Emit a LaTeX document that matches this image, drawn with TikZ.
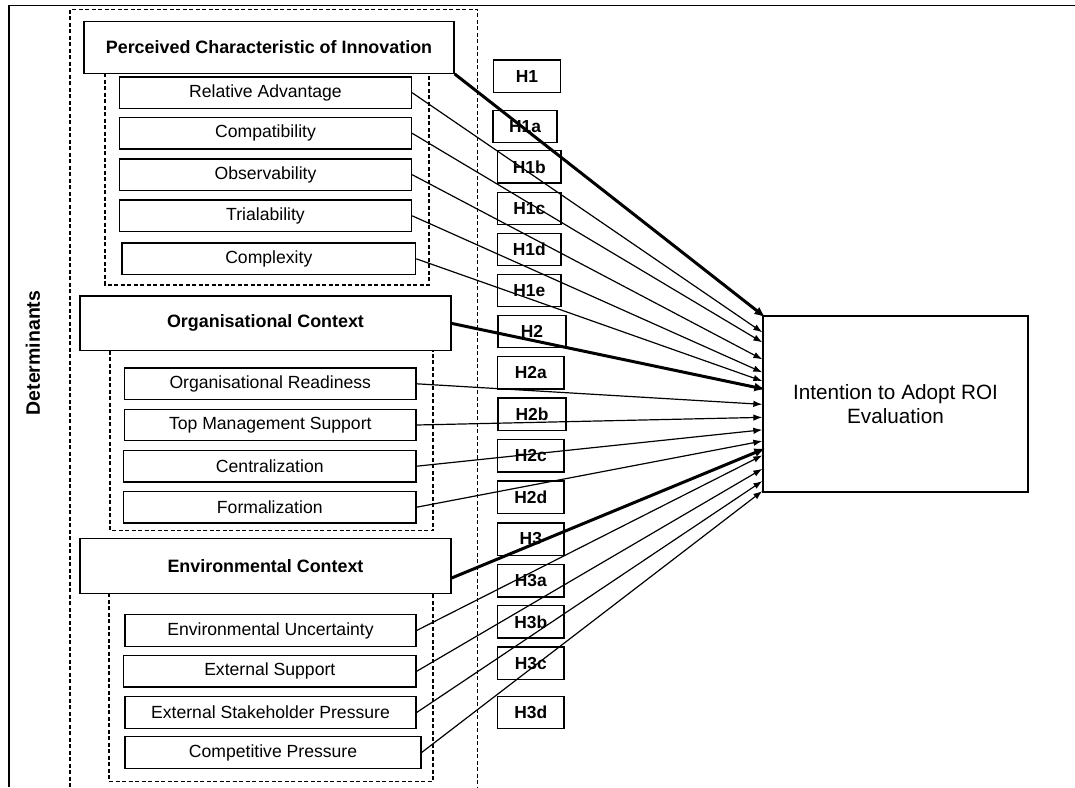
\documentclass[tikz,border=0pt]{standalone}
\usepackage{fontspec}
\setmainfont{Liberation Sans}
\usetikzlibrary{arrows.meta,calc}
\begin{document}
\begin{tikzpicture}[x=1pt,y=-1pt,
  box/.style={draw=black,line width=1.3pt,fill=white,inner sep=0pt,align=center},
  sub/.style={box,minimum height=31.5pt,font=\fontsize{17.6}{20}\selectfont},
  head/.style={box,font=\fontsize{17.9}{20}\selectfont\bfseries},
  hyp/.style={box,minimum height=32.3pt,font=\fontsize{17.4}{20}\selectfont\bfseries},
  grp/.style={draw=black,line width=1.2pt,dash pattern=on 4pt off 2.5pt},
  lnk/.style={draw=black,line width=1.2pt,-{Latex[length=9pt,width=6.5pt]}},
  mainlnk/.style={draw=black,line width=3pt,-{Latex[length=11pt,width=9pt]}}]
\useasboundingbox (0,0) rectangle (1075,787);
% frame
\draw[line width=1.3pt] (1075,5.7) -- (9,5.7) -- (9,787);
% outer dashed group
\draw[grp] (70,787) -- (70,9.3) -- (477.7,9.3) -- (477.7,787);
% inner dashed groups
\draw[grp] (105,73.3) -- (105,285) -- (429,285) -- (429,73.3);
\draw[grp] (110,350.7) -- (110,530.7) -- (433,530.7) -- (433,350.7);
\draw[grp] (109,593.3) -- (109,781.5) -- (433,781.5) -- (433,593.3);
% Determinants
\node[font=\fontsize{19.5}{22}\selectfont\bfseries,rotate=90] (det) at (33,353) {Determinants};
% group 1
\node[head,minimum width=370pt,minimum height=51.6pt] (pci) at (269,47.5) {Perceived Characteristic of Innovation};
\node[sub,minimum width=292pt] (ra) at (265.5,92.7) {Relative Advantage};
\node[sub,minimum width=292pt] (comp) at (265.5,133.3) {Compatibility};
\node[sub,minimum width=292pt] (obs) at (265.5,174.7) {Observability};
\node[sub,minimum width=292pt] (tri) at (265.5,215.8) {Trialability};
\node[sub,minimum width=293.6pt] (cplx) at (268.8,258.8) {Complexity};
% group 2
\node[head,minimum width=371pt,minimum height=54.7pt] (oc) at (265.5,323.4) {Organisational Context};
\node[sub,minimum width=291.4pt] (orr) at (270.3,383.8) {Organisational Readiness};
\node[sub,minimum width=291.4pt] (tms) at (270.3,425) {Top Management Support};
\node[sub,minimum width=292.4pt] (cen) at (269.8,466.2) {Centralization};
\node[sub,minimum width=292.4pt] (frm) at (269.8,507.2) {Formalization};
% group 3
\node[head,minimum width=371pt,minimum height=54.6pt] (ec) at (265.5,566) {Environmental Context};
\node[sub,minimum width=291pt] (eu) at (270.5,630.5) {Environmental Uncertainty};
\node[sub,minimum width=292.4pt] (es) at (269.8,671.3) {External Support};
\node[sub,minimum width=291pt] (esp) at (270.5,712.5) {External Stakeholder Pressure};
\node[sub,minimum width=296pt] (cp) at (273,752.5) {Competitive Pressure};
% hypotheses
\node[hyp,minimum width=67.4pt] (h1) at (527,76.2) {H1};
\node[hyp,minimum width=64pt] (h1a) at (525,126.5) {H1a};
\node[hyp,minimum width=63.5pt] (h1b) at (529.3,166.8) {H1b};
\node[hyp,minimum width=63.5pt] (h1c) at (529.3,208.3) {H1c};
\node[hyp,minimum width=63.5pt] (h1d) at (529.3,249.5) {H1d};
\node[hyp,minimum width=63.5pt] (h1e) at (529.3,290.5) {H1e};
\node[hyp,minimum width=68pt] (h2) at (532,331.5) {H2};
\node[hyp,minimum width=66.5pt] (h2a) at (530.8,372.8) {H2a};
\node[hyp,minimum width=68pt] (h2b) at (532,414.2) {H2b};
\node[hyp,minimum width=66.5pt] (h2c) at (530.8,455.8) {H2c};
\node[hyp,minimum width=66.5pt] (h2d) at (530.8,497) {H2d};
\node[hyp,minimum width=66.5pt] (h3) at (530.8,539) {H3};
\node[hyp,minimum width=66.5pt] (h3a) at (530.8,580.8) {H3a};
\node[hyp,minimum width=66.5pt] (h3b) at (530.8,621.8) {H3b};
\node[hyp,minimum width=66.5pt] (h3c) at (530.8,663.2) {H3c};
\node[hyp,minimum width=66.5pt] (h3d) at (530.8,712.5) {H3d};
% outcome
\node[box,minimum width=265pt,minimum height=176pt,font=\fontsize{20.7}{23.7}\selectfont] (int) at (895.5,404) {Intention to Adopt ROI\\Evaluation};
% connectors
\draw[mainlnk] (pci.south east) -- ([xshift=3pt,yshift=-2pt]int.north west);
\draw[lnk] (ra.east) -- ([yshift=-17pt]int.north west);
\draw[lnk] (comp.east) -- ([yshift=-27pt]int.north west);
\draw[lnk] (obs.east) -- ([yshift=-44pt]int.north west);
\draw[lnk] (tri.east) -- ([yshift=-57pt]int.north west);
\draw[lnk] (cplx.east) -- ([yshift=-65.7pt]int.north west);
\draw[mainlnk] (oc.east) -- ([xshift=3pt,yshift=-74pt]int.north west);
\draw[lnk] (orr.east) -- ([yshift=-89pt]int.north west);
\draw[lnk] (tms.east) -- ([yshift=-102pt]int.north west);
\draw[lnk] (cen.east) -- ([yshift=-114.5pt]int.north west);
\draw[lnk] (frm.east) -- ([yshift=-125.7pt]int.north west);
\draw[mainlnk] ([yshift=-12pt]ec.east) -- ([xshift=3pt,yshift=-133pt]int.north west);
\draw[lnk] (eu.east) -- ([yshift=-140pt]int.north west);
\draw[lnk] (es.east) -- ([yshift=-153.5pt]int.north west);
\draw[lnk] (esp.east) -- ([yshift=-165.7pt]int.north west);
\draw[lnk] (cp.east) -- ([yshift=-175.7pt]int.north west);
\end{tikzpicture}
\end{document}
